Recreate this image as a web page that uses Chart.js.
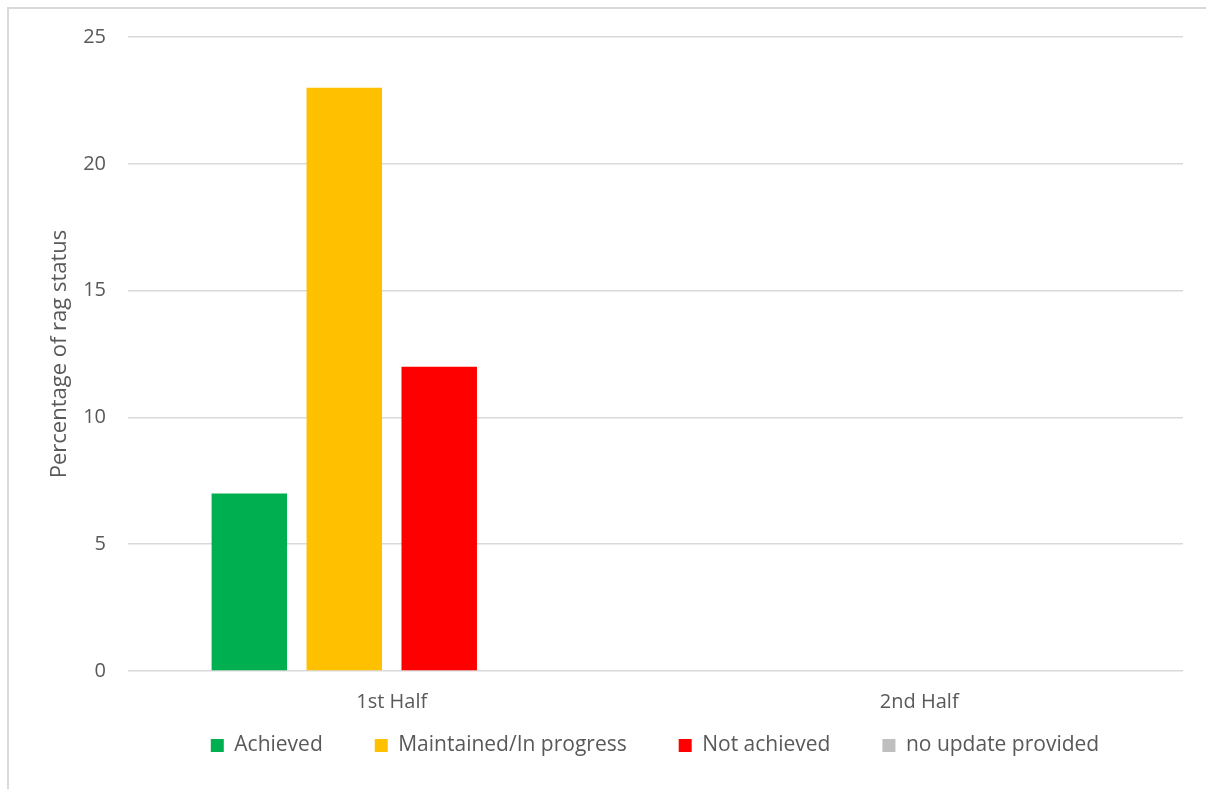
<!DOCTYPE html>
<html>
<head>
<meta charset="utf-8">
<script src="https://cdn.jsdelivr.net/npm/chart.js@4"></script>
<style>
  html, body { margin: 0; padding: 0; background: #fff; overflow: hidden; }
  #wrap { position: relative; width: 1206px; height: 789px; }
  #frame { position: absolute; left: 7px; top: 7px; right: 0; bottom: 0; border-top: 2px solid #d9d9d9; border-left: 2px solid #d9d9d9; }
  canvas { position: absolute; left: 0; top: 0; }
</style>
</head>
<body>
<div id="wrap">
  <div id="frame"></div>
  <canvas id="c" width="1206" height="789"></canvas>
</div>
<script>
const categories = ["1st Half", "2nd Half"];
const seriesNames = ["Achieved", "Maintained/In progress", "Not achieved", "no update provided"];
const achieved = [7, 0];
const maintained = [23, 0];
const notAchieved = [12, 0];
const noUpdate = [0, 0];
const yTicks = [0, 5, 10, 15, 20, 25];
const colors = ["#00b050", "#ffc000", "#ff0000", "#bfbfbf"];
const values = [achieved, maintained, notAchieved, noUpdate];

const FONT = "'Open Sans', 'Noto Sans', sans-serif";
const TXT = "#595959";

// Legend placement: fixed box height and an offset when drawing
const LEGEND_H = 73, LEGEND_DX = 40, LEGEND_DY = 33;
const legendPlacer = {
  id: "legendPlacer",
  afterInit(chart) {
    const lg = chart.legend;
    if (!lg) return;
    const origFit = lg.fit;
    lg.fit = function () { origFit.call(this); this.height = LEGEND_H; };
    const origDraw = lg.draw;
    lg.draw = function () {
      const l = this.left, r = this.right, t = this.top;
      this.left = l + LEGEND_DX; this.right = r + LEGEND_DX; this.top = t - LEGEND_DY;
      origDraw.call(this);
      this.left = l; this.right = r; this.top = t;
    };
  }
};

new Chart(document.getElementById("c"), {
  type: "bar",
  data: {
    labels: categories,
    datasets: seriesNames.map((n, i) => ({
      label: n,
      data: values[i],
      backgroundColor: colors[i],
      borderWidth: 0,
      categoryPercentage: 0.72,
      barPercentage: 0.795
    }))
  },
  plugins: [legendPlacer],
  options: {
    responsive: false,
    animation: false,
    layout: { padding: { left: 47, right: 23, top: 37, bottom: 0 } },
    plugins: {
      tooltip: { enabled: false },
      legend: {
        position: "bottom",
        labels: {
          boxWidth: 13,
          boxHeight: 13,
          padding: 52,
          color: TXT,
          font: { family: FONT, size: 21 }
        }
      }
    },
    scales: {
      x: {
        grid: { display: false, drawTicks: false },
        border: { display: false },
        ticks: { color: TXT, font: { family: FONT, size: 20 }, padding: 19 },
        afterFit: (s) => { s.height = 45; }
      },
      y: {
        min: 0,
        max: 25,
        afterBuildTicks: (s) => { s.ticks = yTicks.map(v => ({ value: v })); },
        grid: { color: "#d9d9d9", lineWidth: 1.5, drawTicks: false },
        border: { display: false },
        ticks: { color: TXT, font: { family: FONT, size: 20 }, padding: 22 },
        title: {
          display: true,
          text: "Percentage of rag status",
          color: TXT,
          font: { family: FONT, size: 22 },
          padding: { top: 0, bottom: 0 }
        },
        afterFit: (s) => { s.width = 81; }
      }
    }
  }
});
</script>
</body>
</html>
